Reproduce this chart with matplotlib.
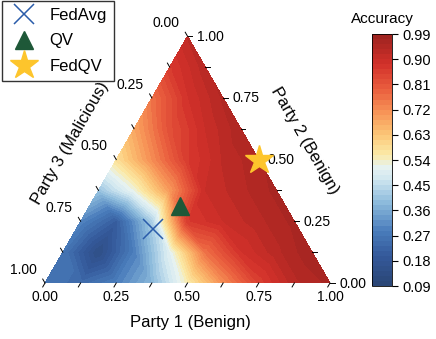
import numpy as np
import matplotlib
matplotlib.use("Agg")
import matplotlib.pyplot as plt
import matplotlib.tri as mtri
from matplotlib.colors import LinearSegmentedColormap
from matplotlib.lines import Line2D

plt.rcParams['font.family'] = ['Liberation Sans', 'DejaVu Sans']

# ---- data ----
# grid levels of Party 2 (rows) ; each row lists Party 1 = 0, 0.125, ... up to 1-Party2
party2_levels = [0.0, 0.125, 0.25, 0.375, 0.5, 0.625, 0.75, 0.875, 1.0]
acc_b0000 = [0.27, 0.24, 0.29, 0.38, 0.55, 0.72, 0.85, 0.93, 0.96]
acc_b0125 = [0.27, 0.14, 0.29, 0.50, 0.76, 0.88, 0.93, 0.97]
acc_b0250 = [0.30, 0.21, 0.42, 0.86, 0.90, 0.93, 0.96]
acc_b0375 = [0.40, 0.52, 0.70, 0.90, 0.93, 0.96]
acc_b0500 = [0.58, 0.72, 0.86, 0.92, 0.95]
acc_b0625 = [0.68, 0.82, 0.90, 0.95]
acc_b0750 = [0.76, 0.88, 0.94]
acc_b0875 = [0.86, 0.93]
acc_b1000 = [0.92]
acc_rows = [acc_b0000, acc_b0125, acc_b0250, acc_b0375, acc_b0500,
            acc_b0625, acc_b0750, acc_b0875, acc_b1000]

# methods: (Party 1, Party 2, Party 3)
methods = ["FedAvg", "QV", "FedQV"]
method_p1 = [0.27, 0.32, 0.50]
method_p2 = [0.22, 0.31, 0.50]

cbar_ticks = [0.09, 0.18, 0.27, 0.36, 0.45, 0.54, 0.63, 0.72, 0.81, 0.90, 0.99]
tick_vals = [0.0, 0.25, 0.5, 0.75, 1.0]
minor_vals = [0.125, 0.375, 0.625, 0.875]

# ---- helpers ----
S3 = np.sqrt(3) / 2


def tern(p1, p2):
    p1 = np.asarray(p1, float)
    p2 = np.asarray(p2, float)
    return p1 + p2 / 2.0, p2 * S3


pts1, pts2, acc = [], [], []
for b, row in zip(party2_levels, acc_rows):
    for i, v in enumerate(row):
        pts1.append(i * 0.125)
        pts2.append(b)
        acc.append(v)
X, Y = tern(pts1, pts2)
tri = mtri.Triangulation(X, Y)

cmap = LinearSegmentedColormap.from_list("acc", [
    (0.00, "#2a4675"), (0.12, "#34599a"), (0.22, "#4a7dbc"),
    (0.33, "#8dbbdc"), (0.42, "#cfe6f0"), (0.47, "#e6f2f1"),
    (0.52, "#fbeaa8"), (0.60, "#fcc878"), (0.68, "#f89a5a"),
    (0.78, "#ea5f3e"), (0.88, "#d2302a"), (1.00, "#9c231f")])

fig = plt.figure(figsize=(4.36, 3.39), dpi=100)
W, H = 436, 339
ax = fig.add_axes([0, 0, 1, 1])
scale = 285.0
x0, y0 = 45.0, 283.0
ax.set_xlim(-x0 / scale, (W - x0) / scale)
ax.set_ylim(-(H - y0) / scale, y0 / scale)
ax.axis('off')

levels = np.linspace(0.09, 0.99, 51)
cs = ax.tricontourf(tri, acc, levels=levels, cmap=cmap)

# ticks
tl = 0.016
for v in tick_vals + minor_vals:
    # bottom: Party 1
    x, y = tern(v, 0)
    ax.plot([x, x - tl * 0.5], [y, y - tl * S3], color='black', lw=0.7)
    # right: Party 2
    x, y = tern(1 - v, v)
    ax.plot([x, x + tl], [y, y], color='black', lw=0.7)
    # left: Party 3
    x, y = tern(0, 1 - v)
    ax.plot([x, x - tl * 0.5], [y, y + tl * S3], color='black', lw=0.7)

for v in tick_vals:
    x, y = tern(v, 0)
    ax.text(x, y - 0.05, f"{v:.2f}", ha='center', va='center', fontsize=10)
    x, y = tern(1 - v, v)
    ax.text(x + 0.032, y - 0.002, f"{v:.2f}", ha='left', va='center', fontsize=10)
    x, y = tern(0, 1 - v)
    ax.text(x - 0.077, y + 0.046, f"{v:.2f}", ha='center', va='center', fontsize=10)

ax.text(0.51, -0.14, "Party 1 (Benign)", ha='center', va='center', fontsize=12)
ax.text(0.09, 0.49, "Party 3 (Malicious)", ha='center', va='center',
        fontsize=12, rotation=60)
ax.text(0.913, 0.50, "Party 2 (Benign)", ha='center', va='center',
        fontsize=12, rotation=-60)

styles = {
    "FedAvg": dict(marker='x', color='#2a5caa', ms=15, mew=1.1, ls='none'),
    "QV": dict(marker='^', color='#1e5838', ms=13, ls='none'),
    "FedQV": dict(marker='*', color='#fdc52c', ms=21, ls='none'),
}
handles = []
for m, p1, p2 in zip(methods, method_p1, method_p2):
    x, y = tern(p1, p2)
    ax.plot([x], [y], zorder=5, **styles[m])
    handles.append(Line2D([], [], label=m, **styles[m]))

leg = fig.legend(handles=handles, loc='upper left', bbox_to_anchor=(0.005, 0.997),
                 borderaxespad=0, fontsize=12, frameon=True, fancybox=False,
                 edgecolor='black', labelspacing=0.62, handletextpad=0.6,
                 borderpad=0.42, handlelength=1.8)
leg.get_frame().set_linewidth(1.0)

cax = fig.add_axes([372 / W, 1 - 286 / H, 20 / W, 252 / H])
cb = fig.colorbar(cs, cax=cax, ticks=cbar_ticks)
cb.ax.set_yticklabels([f"{t:.2f}" for t in cbar_ticks])
cb.ax.tick_params(labelsize=10.5, length=4, width=0.8)
cb.outline.set_linewidth(0.6)
cb.ax.set_title("Accuracy", fontsize=11, pad=8)

fig.savefig("out.png", dpi=100)
